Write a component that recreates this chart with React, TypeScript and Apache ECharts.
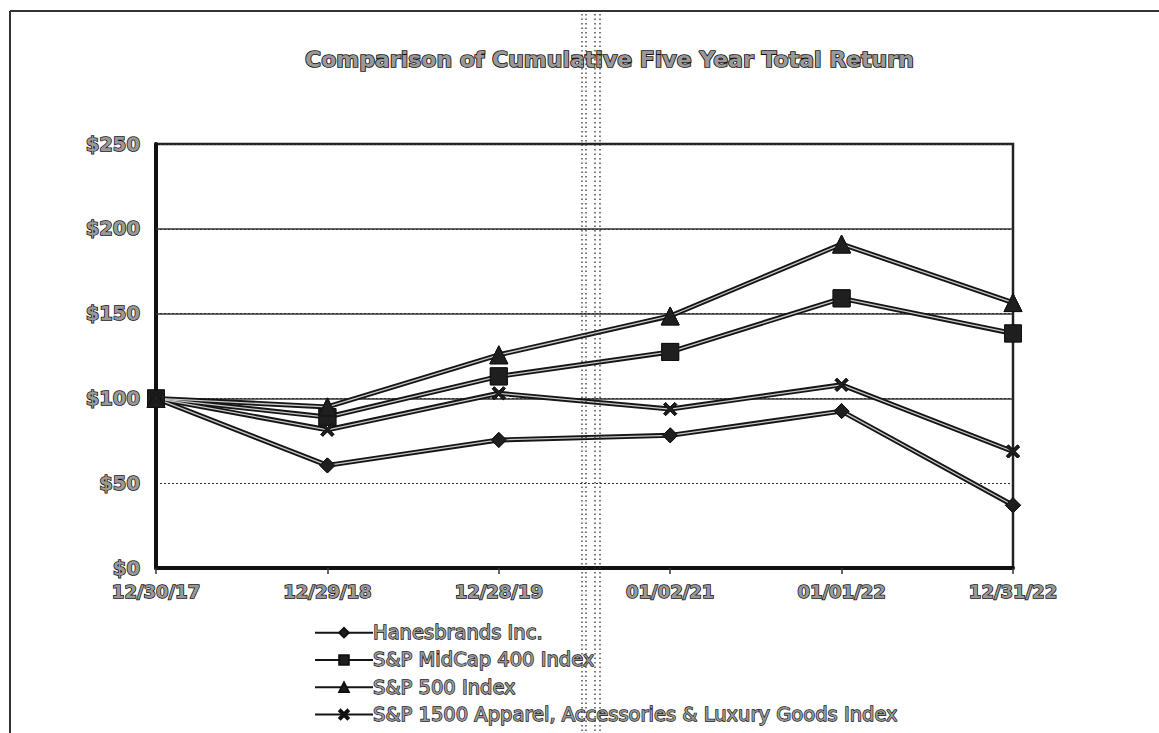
import React, { useEffect, useRef } from "react";
import * as echarts from "echarts";

const categories = ["12/30/17", "12/29/18", "12/28/19", "01/02/21", "01/01/22", "12/31/22"];
const seriesNames = [
  "Hanesbrands Inc.",
  "S&P MidCap 400 Index",
  "S&P 500 Index",
  "S&P 1500 Apparel, Accessories & Luxury Goods Index",
];
const hanesbrands = [100, 60.5, 75.5, 78.2, 92.5, 37];
const midcap400 = [100, 89, 113, 127.4, 159, 138.3];
const sp500 = [100, 95, 125.7, 148.6, 191, 156.5];
const apparel = [100, 81.5, 103, 93.7, 108, 68.7];
const yTicks = [0, 50, 100, 150, 200, 250];
const solidGridValues = [100, 150, 200];

const FONT = '"DejaVu Sans", "Liberation Sans", sans-serif';
const XPATH = "path://M0,1.5 L1.5,0 L5,3.5 L8.5,0 L10,1.5 L6.5,5 L10,8.5 L8.5,10 L5,6.5 L1.5,10 L0,8.5 L3.5,5 Z";

const outlined = {
  color: "#999999",
  textBorderColor: "#111",
  textBorderWidth: 1.5,
};

export default function App() {
  const ref = useRef<HTMLDivElement>(null);
  useEffect(() => {
    if (!ref.current) return;
    const chart = echarts.init(ref.current, null, { renderer: "svg" });
    const values = [hanesbrands, midcap400, sp500, apparel];
    const symbols = ["diamond", "rect", "triangle", XPATH];
    const sizes = [15, 17, 18, 13];
    const mains = values.map((d, i) => ({
      name: seriesNames[i],
      type: "line",
      data: d,
      symbol: symbols[i],
      symbolSize: sizes[i],
      showAllSymbol: true,
      lineStyle: { color: "#151515", width: 5 },
      itemStyle: { color: "#1f1f1f", borderColor: "#111", borderWidth: 1 },
      z: 3,
      ...(i === 0
        ? {
            markLine: {
              silent: true,
              symbol: "none",
              label: { show: false },
              lineStyle: { type: "solid", color: "#333", width: 1.5 },
              data: solidGridValues.map((v) => ({ yAxis: v })),
              z: 1,
            },
          }
        : {}),
    }));
    const overlays = values.map((d, i) => ({
      name: seriesNames[i] + " ",
      type: "line",
      data: d,
      symbol: symbols[i],
      symbolSize: sizes[i],
      showAllSymbol: true,
      silent: true,
      lineStyle: { color: "#c8c8c8", width: 1.3 },
      itemStyle: { color: "#1f1f1f", borderColor: "#111", borderWidth: 1 },
      z: 4,
    }));
    const vDots = [582, 586, 595, 600];
    chart.setOption({
      animation: false,
      backgroundColor: "#fff",
      title: {
        text: "Comparison of Cumulative Five Year Total Return",
        left: 300,
        top: 43,
        textStyle: { fontSize: 22, fontWeight: "bold", fontFamily: FONT, ...outlined, textBorderWidth: 1.7 },
      },
      grid: {
        left: 156,
        top: 144,
        width: 857,
        height: 424,
        show: true,
        borderColor: "#222",
        borderWidth: 2.5,
        backgroundColor: "transparent",
      },
      legend: {
        orient: "vertical",
        left: 309,
        top: 617,
        height: 114,
        itemWidth: 58,
        itemHeight: 12,
        itemGap: 6,
        data: seriesNames.map((n) => ({ name: n })),
        textStyle: {
          fontSize: 19.5,
          fontFamily: FONT,
          lineHeight: 20,
          ...outlined,
          textBorderWidth: 1.3,
          padding: [0, 0, 0, -5],
        },
      },
      xAxis: {
        type: "category",
        data: categories,
        boundaryGap: false,
        axisLine: { lineStyle: { color: "#111", width: 4 } },
        axisTick: { show: true, length: 6, lineStyle: { color: "#333", width: 1.5 } },
        axisLabel: { fontSize: 18, fontWeight: "bold", fontFamily: FONT, margin: 14, ...outlined },
        splitLine: { show: false },
      },
      yAxis: {
        type: "value",
        min: yTicks[0],
        max: yTicks[yTicks.length - 1],
        interval: 50,
        axisLine: { show: true, lineStyle: { color: "#111", width: 4 } },
        axisTick: { show: false },
        axisLabel: {
          fontSize: 19.5,
          fontWeight: "bold",
          fontFamily: FONT,
          margin: 16,
          formatter: (v: number) => "$" + v,
          ...outlined,
        },
        splitLine: { show: true, lineStyle: { color: "#333", width: 1.2, type: [2, 2] } },
      },
      graphic: [
        { type: "line", shape: { x1: 10, y1: 11, x2: 1159, y2: 11 }, style: { stroke: "#333", lineWidth: 2 } },
        { type: "line", shape: { x1: 10, y1: 11, x2: 10, y2: 733 }, style: { stroke: "#333", lineWidth: 2 } },
        ...vDots.map((x) => ({
          type: "line",
          z: 100,
          silent: true,
          shape: { x1: x, y1: 14, x2: x, y2: 733 },
          style: { stroke: "#333", lineWidth: 1.3, lineDash: [1.5, 3] },
        })),
      ],
      series: [...mains, ...overlays],
    });
    return () => chart.dispose();
  }, []);
  return <div ref={ref} style={{ position: "fixed", left: 0, top: 0, width: 1159, height: 733 }} />;
}
